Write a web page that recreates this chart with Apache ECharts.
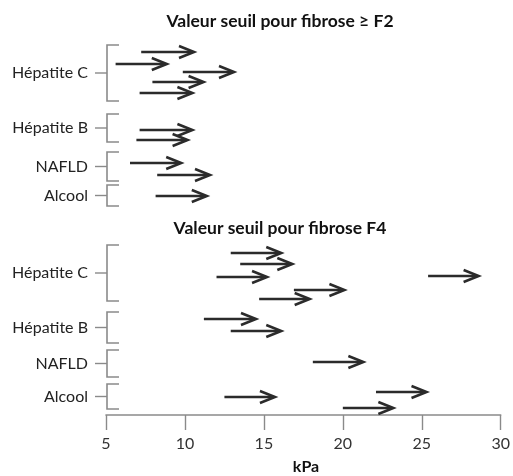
<!DOCTYPE html>
<html>
<head>
<meta charset="utf-8">
<script src="https://cdn.jsdelivr.net/npm/echarts@6/dist/echarts.min.js"></script>
<style>html,body{margin:0;padding:0;background:#fff}#main{width:513px;height:476px}</style>
</head>
<body>
<div id="main"></div>
<script>
// groupes d'étiologie et graduations
var groupes = ['Hépatite C', 'Hépatite B', 'NAFLD', 'Alcool'];
var xMin = 5, xMax = 30, xPas = 5;

// seuil fibrose >= F2 : début et fin de chaque flèche (kPa), rang vertical
var f2Groupe = [0, 0, 0, 0, 0, 1, 1, 2, 2, 3];
var f2Debut = [7.2, 5.6, 9.8, 7.9, 7.1, 7.1, 6.9, 6.5, 8.2, 8.1];
var f2Fin = [10.5, 8.8, 13.0, 11.1, 10.4, 10.4, 10.1, 9.7, 11.5, 11.3];
var f2Rang = [1.2, 2.4, 3.2, 4.2, 5.3, 9.0, 10.0, 12.3, 13.5, 15.6];
var f2Accolade = [[0.5, 6.1], [7.4, 10.2], [11.2, 14.1], [14.5, 16.6]];

// seuil fibrose F4
var f4Groupe = [0, 0, 0, 0, 0, 0, 1, 1, 2, 3, 3, 3];
var f4Debut = [12.9, 13.5, 12.0, 25.4, 16.9, 14.7, 11.2, 12.9, 18.1, 12.5, 22.1, 20.0];
var f4Fin = [16.1, 16.8, 15.2, 28.6, 20.1, 17.9, 14.5, 16.1, 21.3, 15.7, 25.3, 23.2];
var f4Rang = [1.3, 2.4, 3.7, 3.6, 5.0, 5.9, 7.9, 9.1, 12.2, 15.7, 15.2, 16.8];
var f4Accolade = [[0.5, 6.1], [7.2, 10.3], [11.0, 13.7], [14.4, 16.9]];

var police = 'Lato, "Open Sans", sans-serif';
var gris = '#8a8a8a';
var noir = '#2b2b2b';

function fleches(debut, fin, rang) {
    return debut.map(function (d, i) { return [d, fin[i], rang[i]]; });
}
function accolades(acc) {
    return acc.map(function (a, i) { return [i, a[0], a[1]]; });
}

function flecheItem(params, api) {
    var a = api.coord([api.value(0), api.value(2)]);
    var b = api.coord([api.value(1), api.value(2)]);
    return {
        type: 'group',
        children: [
            { type: 'line', shape: { x1: a[0], y1: a[1], x2: b[0] - 2, y2: b[1] },
              style: { stroke: noir, lineWidth: 2.6 } },
            { type: 'polyline', shape: { points: [[b[0] - 15, b[1] - 6], [b[0], b[1]], [b[0] - 15, b[1] + 6]] },
              style: { stroke: noir, lineWidth: 2.6, fill: null } }
        ]
    };
}

function accoladeItem(params, api) {
    var haut = api.coord([xMin, api.value(1)]);
    var bas = api.coord([xMin, api.value(2)]);
    var x = haut[0] + 1, mid = (haut[1] + bas[1]) / 2;
    return {
        type: 'group',
        children: [
            { type: 'polyline', shape: { points: [[x + 12, haut[1]], [x, haut[1]], [x, bas[1]], [x + 12, bas[1]]] },
              style: { stroke: gris, lineWidth: 1.6, fill: null } },
            { type: 'line', shape: { x1: x - 12, y1: mid, x2: x, y2: mid },
              style: { stroke: gris, lineWidth: 1.4 } },
            { type: 'text', x: x - 19, y: mid,
              style: { text: groupes[api.value(0)], align: 'right', verticalAlign: 'middle',
                       font: '16px ' + police, fill: '#222' } }
        ]
    };
}

var myChart = echarts.init(document.getElementById('main'));
var option = {
    animation: false,
    graphic: [
        { type: 'text', x: 280, y: 21, style: { text: 'Valeur seuil pour fibrose ≥ F2', align: 'center',
          verticalAlign: 'middle', font: 'bold 17.5px ' + police, fill: '#111' } },
        { type: 'text', x: 280, y: 228, style: { text: 'Valeur seuil pour fibrose F4', align: 'center',
          verticalAlign: 'middle', font: 'bold 17.5px ' + police, fill: '#111' } },
        { type: 'text', x: 306, y: 467, style: { text: 'kPa', align: 'center',
          verticalAlign: 'middle', font: 'bold 16px ' + police, fill: '#111' } }
    ],
    grid: [
        { left: 106, right: 7, top: 40, height: 170 },
        { left: 106, right: 7, top: 240, height: 175 }
    ],
    xAxis: [
        { gridIndex: 0, type: 'value', min: xMin, max: xMax, show: false },
        { gridIndex: 1, type: 'value', min: xMin, max: xMax, interval: xPas, position: 'bottom',
          axisLine: { onZero: false, lineStyle: { color: gris, width: 1.6 } },
          axisTick: { length: 15, lineStyle: { color: gris, width: 1.4 } },
          axisLabel: { margin: 21, fontSize: 16, fontFamily: police, color: '#333' },
          splitLine: { show: false } }
    ],
    yAxis: [
        { gridIndex: 0, type: 'value', min: 0, max: 17, inverse: true, show: false },
        { gridIndex: 1, type: 'value', min: 0, max: 17.5, inverse: true, show: false }
    ],
    series: [
        { type: 'custom', xAxisIndex: 0, yAxisIndex: 0, renderItem: accoladeItem, data: accolades(f2Accolade) },
        { type: 'custom', xAxisIndex: 0, yAxisIndex: 0, renderItem: flecheItem, data: fleches(f2Debut, f2Fin, f2Rang) },
        { type: 'custom', xAxisIndex: 1, yAxisIndex: 1, renderItem: accoladeItem, data: accolades(f4Accolade) },
        { type: 'custom', xAxisIndex: 1, yAxisIndex: 1, renderItem: flecheItem, data: fleches(f4Debut, f4Fin, f4Rang) }
    ]
};
myChart.setOption(option);
</script>
</body>
</html>
